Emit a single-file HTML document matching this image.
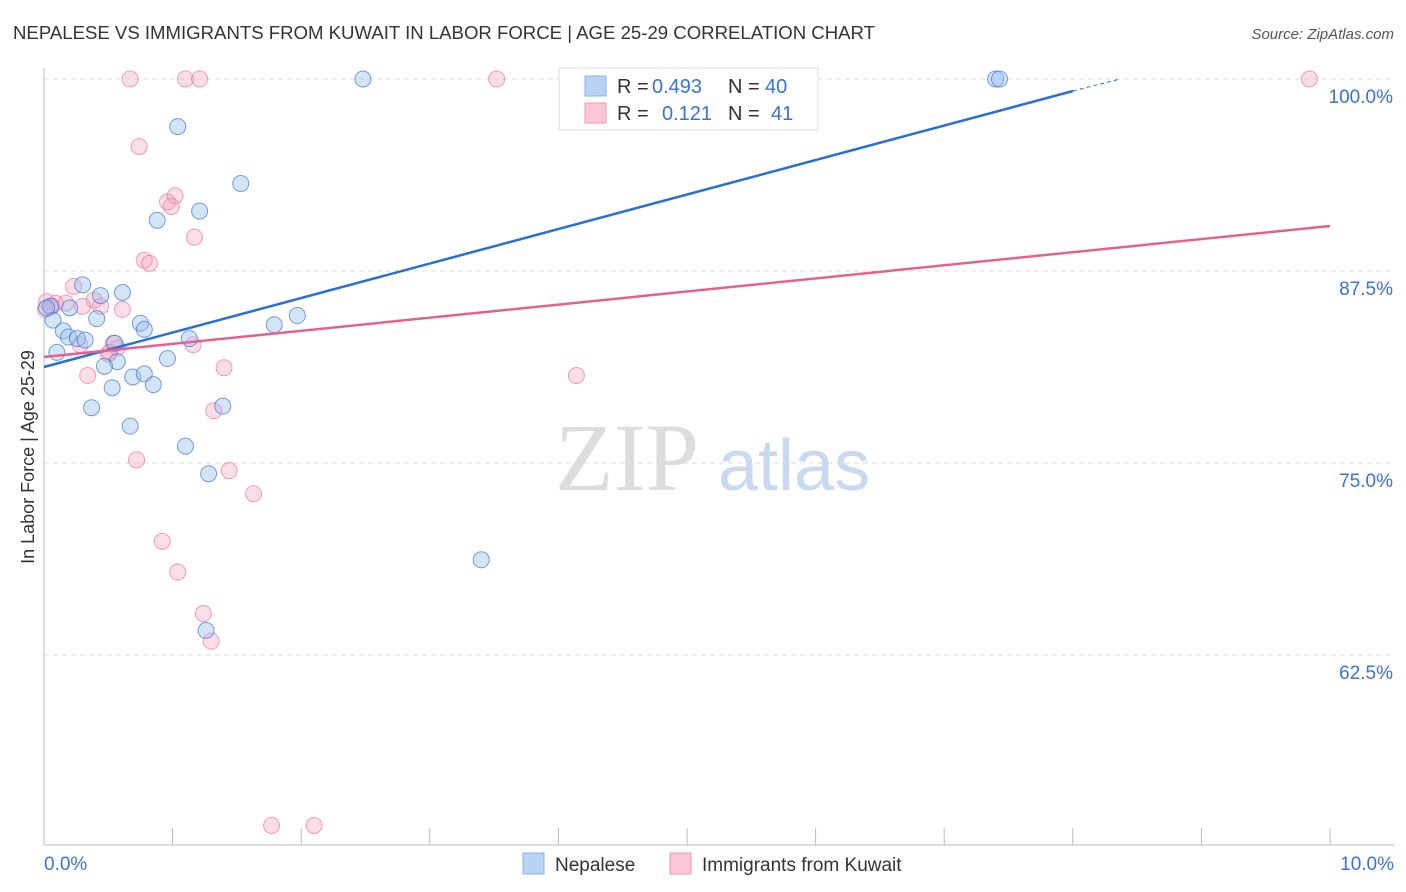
<!DOCTYPE html>
<html><head><meta charset="utf-8"><style>
body{margin:0;background:#fff;font-family:"Liberation Sans",sans-serif;}
svg{display:block}
</style></head><body>
<svg id="chart" width="1406" height="892" xmlns="http://www.w3.org/2000/svg">
<text x="13" y="39" font-size="18" fill="#333" textLength="862" lengthAdjust="spacingAndGlyphs">NEPALESE VS IMMIGRANTS FROM KUWAIT IN LABOR FORCE | AGE 25-29 CORRELATION CHART</text>
<text x="1394" y="39" font-size="15" fill="#555" text-anchor="end" font-style="italic">Source: ZipAtlas.com</text>
<text transform="translate(34,457) rotate(-90)" font-size="18" fill="#333" text-anchor="middle">In Labor Force | Age 25-29</text>
<g id="grid"></g>
<text x="555" y="490" font-size="96" fill="#ddd" font-family="Liberation Serif, serif">ZIP</text>
<text x="718" y="490" font-size="72" fill="#c9d9f0">atlas</text>
<g id="marks"></g>
<g font-size="20">
<rect x="559" y="68" width="259" height="62" fill="#fff" stroke="#ddd"/>
<rect x="585" y="76" width="21" height="20" fill="#b9d3f5" stroke="#8ab0e6"/>
<rect x="585" y="103" width="21" height="20" fill="#fbc7d6" stroke="#ee9ab5"/>
<text x="617" y="93" fill="#333">R =</text><text x="652" y="93" fill="#3a73d0">0.493</text>
<text x="728" y="93" fill="#333">N =</text><text x="765" y="93" fill="#3a73d0">40</text>
<text x="617" y="120" fill="#333">R =</text><text x="662" y="120" fill="#3a73d0">0.121</text>
<text x="728" y="120" fill="#333">N =</text><text x="771" y="120" fill="#3a73d0">41</text>
</g>
<g>
<rect x="523" y="853" width="21" height="21" fill="#b9d3f5" stroke="#8ab0e6"/>
<text x="555" y="871" font-size="19" fill="#333">Nepalese</text>
<rect x="670" y="853" width="21" height="21" fill="#fbc7d6" stroke="#ee9ab5"/>
<text x="702" y="871" font-size="19" fill="#333">Immigrants from Kuwait</text>
</g>
</svg>
<script>
const yTicks=[100,87.5,75,62.5];
const yTickLabels=["100.0%","87.5%","75.0%","62.5%"];
const xTickLabels=["0.0%","10.0%"];
const nepaleseX=[2.48,7.40,7.43,1.04,1.53,1.21,0.88,0.30,0.61,0.44,0.20,0.05,0.41,0.07,0.75,0.78,0.15,0.19,0.26,0.32,1.13,1.79,1.97,0.55,0.10,0.96,0.57,0.47,0.69,0.78,0.85,0.53,0.37,1.39,0.67,1.10,1.28,3.40,1.26,0.02];
const nepaleseY=[100,100,100,96.9,93.2,91.4,90.8,86.6,86.1,85.9,85.1,85.2,84.4,84.3,84.1,83.7,83.6,83.2,83.1,83.0,83.1,84.0,84.6,82.8,82.2,81.8,81.6,81.3,80.6,80.8,80.1,79.9,78.6,78.7,77.4,76.1,74.3,68.7,64.1,85.1];
const kuwaitX=[0.67,1.10,1.21,3.52,9.84,0.74,0.96,1.02,0.99,1.17,0.78,0.82,0.23,0.39,0.02,0.09,0.17,0.06,0.01,0.44,0.61,0.30,0.50,0.57,1.16,0.34,1.40,4.14,1.32,0.72,1.44,1.63,0.92,1.04,1.24,1.30,1.77,2.10,0.28,0.54,0.51];
const kuwaitY=[100,100,100,100,100,95.6,92.0,92.4,91.7,89.7,88.2,88.0,86.5,85.6,85.5,85.4,85.4,85.2,85.0,85.2,85.0,85.2,82.1,82.5,82.7,80.7,81.2,80.7,78.4,75.2,74.5,73.0,69.9,67.9,65.2,63.4,51.4,51.4,82.7,82.8,82.2];
const X=v=>44+v/10*1286, Y=v=>79+(100-v)*15.36;
const NS="http://www.w3.org/2000/svg";
function mk(tag,attrs,parent){const e=document.createElementNS(NS,tag);for(const k in attrs)e.setAttribute(k,attrs[k]);parent.appendChild(e);return e;}
const grid=document.getElementById('grid'), marks=document.getElementById('marks');
mk('line',{x1:44,y1:68,x2:44,y2:845,stroke:'#bbb'},grid);
mk('line',{x1:44,y1:845,x2:1394,y2:845,stroke:'#bbb'},grid);
for(let i=1;i<=10;i++){const l=mk('line',{x1:44+i*128.6,y1:828,x2:44+i*128.6,y2:845,stroke:'#bbb'},grid);

}
yTicks.forEach((t,i)=>{const l=mk('line',{x1:44,y1:Y(t),x2:1393,y2:Y(t),stroke:'#ddd','stroke-dasharray':'5,4'},grid);


const tx=mk('text',{x:1393,y:Y(t)+24,'font-size':19,fill:'#3a73d0','text-anchor':'end'},grid);tx.textContent=yTickLabels[i];

});
const xl0=mk('text',{x:44,y:870,'font-size':19,fill:'#3a73d0'},grid);xl0.textContent=xTickLabels[0];


const xl1=mk('text',{x:1394,y:870,'font-size':19,fill:'#3a73d0','text-anchor':'end'},grid);xl1.textContent=xTickLabels[1];


kuwaitX.forEach((v,i)=>{const c=mk('circle',{cx:X(v),cy:Y(kuwaitY[i]),r:8,fill:'rgba(247,160,188,0.35)',stroke:'rgba(232,120,160,0.7)','stroke-width':1},marks);

});
nepaleseX.forEach((v,i)=>{const c=mk('circle',{cx:X(v),cy:Y(nepaleseY[i]),r:8,fill:'rgba(150,190,240,0.4)',stroke:'rgba(60,120,210,0.7)','stroke-width':1},marks);

});
const bl=mk('line',{x1:44,y1:367,x2:1073,y2:91,stroke:'#2a6fd6','stroke-width':2.5},marks);


const bd=mk('line',{x1:1073,y1:91,x2:1120,y2:79,stroke:'#2a6fd6','stroke-width':1,'stroke-dasharray':'4,3'},marks);


const pl=mk('line',{x1:44,y1:357,x2:1330,y2:226,stroke:'#e5608e','stroke-width':2.5},marks);


</script>
</body></html>
